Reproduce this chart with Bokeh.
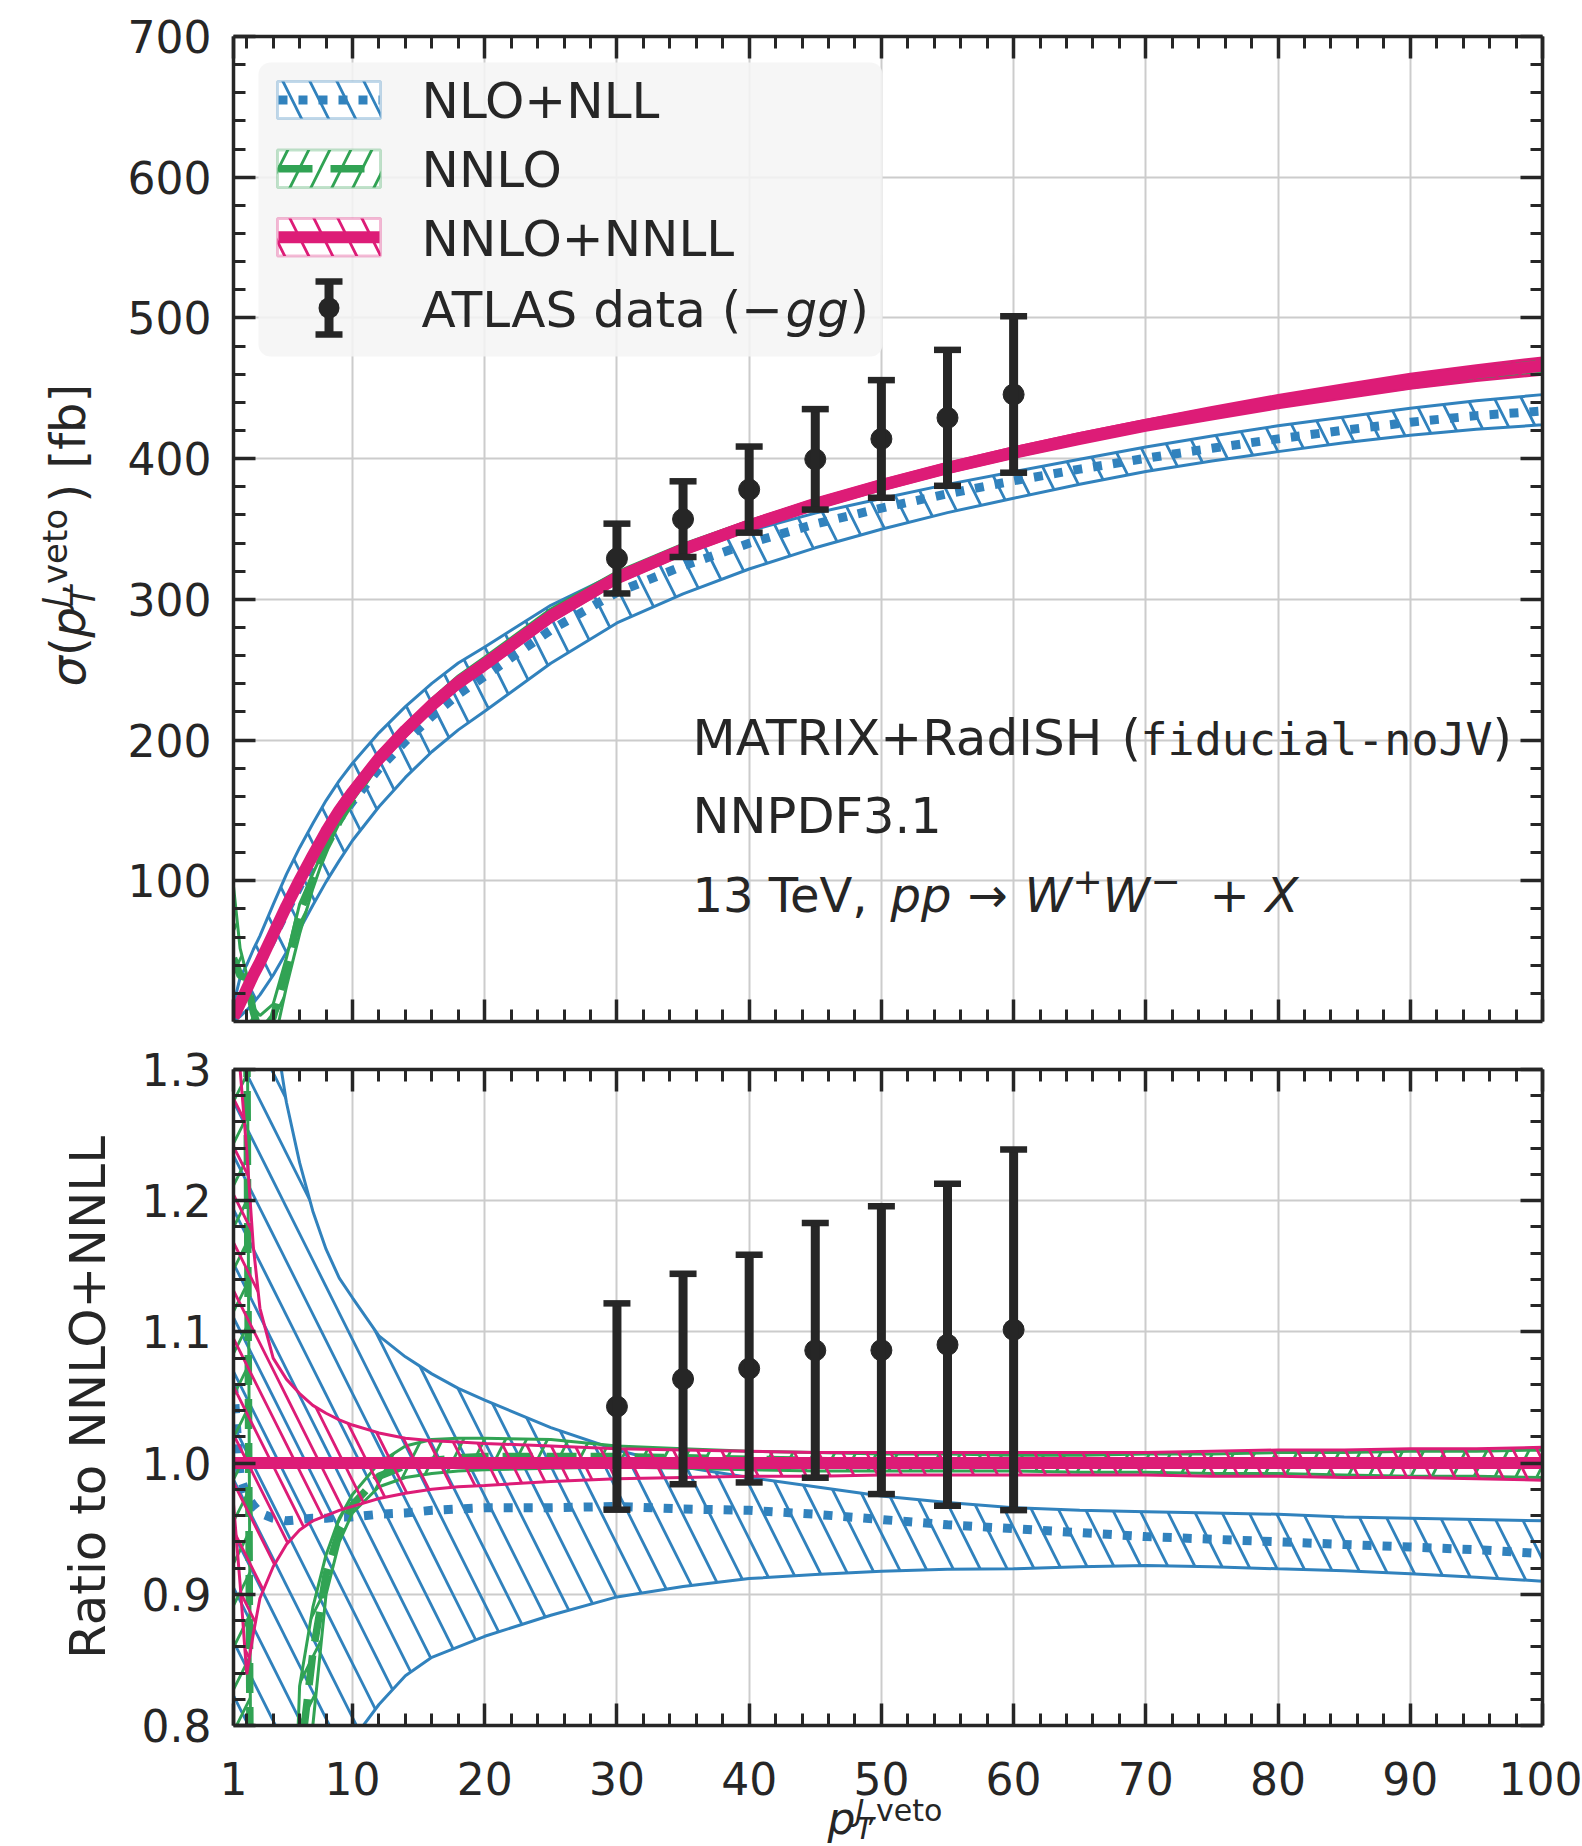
import math
import numpy as np
from bokeh.plotting import figure
from bokeh.layouts import column, row
from bokeh.models import (ColumnDataSource, FixedTicker, LinearAxis, Range1d,
                          Whisker, TeeHead, Label, BoxAnnotation, Arrow,
                          PrintfTickFormatter, CustomJSTickFormatter)
from bokeh.embed import file_html
from bokeh.resources import INLINE

# ---------------------------------------------------------------- data
pt = [1, 1.5, 2, 2.5, 3, 4, 5, 6, 7, 8, 9, 10, 12, 14, 16, 18, 20, 25, 30,
      35, 40, 45, 50, 55, 60, 65, 70, 75, 80, 85, 90, 95, 100]

# NNLO+NNLL central cross section [fb]
nnll_c = [3, 13, 23, 33, 42, 62, 82, 100.5, 118, 135, 150, 163, 187, 207, 225,
          241, 254, 288, 315.4, 335.5, 352.6, 367.9, 381.2, 393.5, 404.5, 414.5,
          424, 432.5, 440.5, 448, 455, 461, 466]

# all other curves as ratio to the NNLO+NNLL central value
nnll_hi_r = [1.6, 1.30, 1.238, 1.165, 1.118, 1.08, 1.064, 1.053, 1.044, 1.038,
             1.033, 1.029, 1.023, 1.019, 1.017, 1.016, 1.015, 1.013, 1.011, 1.010,
             1.009, 1.008, 1.008, 1.008, 1.008, 1.008, 1.008, 1.009, 1.010, 1.010,
             1.011, 1.011, 1.012]
nnll_lo_r = [0.969, 0.908, 0.839, 0.87, 0.897, 0.921, 0.938, 0.949, 0.956, 0.960,
             0.964, 0.967, 0.973, 0.977, 0.980, 0.982, 0.983, 0.986, 0.988, 0.989,
             0.990, 0.990, 0.991, 0.991, 0.991, 0.991, 0.991, 0.990, 0.990, 0.989,
             0.989, 0.988, 0.987]

nll_c_r = [1.06, 0.99, 0.975, 0.968, 0.962, 0.958, 0.956, 0.957, 0.958, 0.958,
           0.959, 0.959, 0.961, 0.962, 0.964, 0.965, 0.966, 0.966, 0.967, 0.965,
           0.964, 0.961, 0.957, 0.953, 0.950, 0.947, 0.944, 0.942, 0.940, 0.938,
           0.936, 0.934, 0.931]
nll_hi_r = [4.0, 2.4, 1.75, 1.55, 1.45, 1.34, 1.275, 1.229, 1.192, 1.163, 1.141,
            1.126, 1.097, 1.081, 1.068, 1.057, 1.048, 1.027, 1.010, 0.997, 0.989,
            0.982, 0.975, 0.970, 0.966, 0.964, 0.963, 0.962, 0.961, 0.959, 0.958,
            0.957, 0.956]
nll_lo_r = [0.2, 0.28, 0.35, 0.40, 0.45, 0.53, 0.60, 0.65, 0.70, 0.735, 0.762,
            0.789, 0.816, 0.838, 0.852, 0.860, 0.868, 0.884, 0.898, 0.906, 0.912,
            0.915, 0.9176, 0.919, 0.9194, 0.921, 0.922, 0.921, 0.9194, 0.918,
            0.9156, 0.913, 0.910]

nnlo_c_r = [15, 2.5, 1.35, 0.2, -0.2, 0.05, 0.45, 0.77, 0.855, 0.915, 0.948,
            0.968, 0.99, 0.998, 1.002, 1.004, 1.005, 1.005, 1.005, 1.004, 1.003,
            1.002, 1.001, 1.001, 1.0, 1.0, 1.0, 1.0, 1.0, 1.0, 1.0, 1.0, 1.0]
nnlo_hi_r = [32, 4.0, 1.45, 0.3, 0.1, 0.2, 0.55, 0.83, 0.89, 0.93, 0.958, 0.976,
             1.0, 1.013, 1.018, 1.019, 1.019, 1.018, 1.013, 1.011, 1.009, 1.008,
             1.007, 1.007, 1.006, 1.006, 1.007, 1.007, 1.008, 1.008, 1.009, 1.009,
             1.010]
nnlo_lo_r = [0.3, -1.0, -3.0, -2.0, -1.0, -0.3, 0.3, 0.62, 0.80, 0.90, 0.94,
             0.962, 0.982, 0.989, 0.992, 0.994, 0.995, 0.996, 0.997, 0.996, 0.995,
             0.994, 0.994, 0.994, 0.994, 0.993, 0.993, 0.992, 0.992, 0.991, 0.990,
             0.990, 0.989]

# ATLAS data (-gg)
data_pt = [30, 35, 40, 45, 50, 55, 60]
data_sigma = [329, 357, 378, 399.5, 414, 429, 445.6]
data_err = [24.8, 26.9, 30.6, 35.7, 41.8, 48.3, 55.6]

x_ticks = [1, 10, 20, 30, 40, 50, 60, 70, 80, 90, 100]
sigma_ticks = [100, 200, 300, 400, 500, 600, 700]
ratio_ticks = [0.8, 0.9, 1.0, 1.1, 1.2, 1.3]

# ---------------------------------------------------------------- style
BLUE, GREEN, PINK = "#3182bd", "#31a354", "#dd1c77"
DARK, GRID = "#262626", "#cccccc"
FONT, MONO = "DejaVu Sans", "DejaVu Sans Mono"
BASE_SHIFT = 0.346            # label anchor -> alphabetic baseline (em)

PAGE_W, PAGE_H = 1582, 1846
STRIP_W = 120                 # left text strip of the top row
H_TOP = 1041
FL, FR = 233, 1542            # frame left / right (page px)
T_TOP, T_BOT = 36, 1021       # top frame (page px)
B_TOP, B_BOT = 1069, 1725     # bottom frame (page px)
B_BORDER = 27                 # room for the lowest ratio tick label
H_BOT = (B_BOT - H_TOP) + B_BORDER
XL_TOP = H_TOP + H_BOT        # page y where the bottom text strip starts
H_XL = PAGE_H - XL_TOP
SIG_MAX = 700
TICK_PX = 44
LEG_PX = 50


def tx(px):
    return x_ticks[0] + (px - FL) * (x_ticks[-1] - x_ticks[0]) / (FR - FL)


def ty(py):
    return SIG_MAX * (T_BOT - py) / (T_BOT - T_TOP)


x_minor = [v for v in range(2, 100, 2) if v % 10 != 0]
sig_minor = [v for v in range(20, 700, 20) if v % 100 != 0]
ratio_minor = [round(0.8 + 0.02 * i, 2) for i in range(1, 25) if i % 5 != 0]

xtick = FixedTicker(ticks=x_ticks, minor_ticks=x_minor)
stick = FixedTicker(ticks=sigma_ticks, minor_ticks=sig_minor)
rtick = FixedTicker(ticks=ratio_ticks, minor_ticks=ratio_minor)

xr = Range1d(x_ticks[0], x_ticks[-1])


def style_axis(ax, ticker, labels):
    ax.ticker = ticker
    ax.axis_line_color = DARK
    ax.axis_line_width = 3.5
    ax.major_tick_line_color = DARK
    ax.major_tick_line_width = 3.5
    ax.minor_tick_line_color = DARK
    ax.minor_tick_line_width = 3
    ax.major_tick_in = 22
    ax.major_tick_out = 0
    ax.minor_tick_in = 12
    ax.minor_tick_out = 0
    ax.major_label_text_font = FONT
    ax.major_label_text_color = DARK
    if labels:
        ax.major_label_text_font_size = f"{TICK_PX}px"
    else:
        ax.formatter = CustomJSTickFormatter(code="return ''")
        ax.major_label_text_font_size = "1px"
        ax.major_label_standoff = 0


def make_fig(width, height, yr, ytick, bleft, btop, bbot):
    p = figure(width=width, height=height, x_range=xr, y_range=yr,
               output_backend="svg", toolbar_location=None,
               min_border_left=bleft, min_border_right=PAGE_W - FR,
               min_border_top=btop, min_border_bottom=bbot,
               background_fill_color="white", border_fill_color="white",
               outline_line_color=None)
    style_axis(p.below[0], xtick, False)
    style_axis(p.left[0], ytick, True)
    p.left[0].major_label_standoff = 22
    top_ax = LinearAxis()
    right_ax = LinearAxis()
    style_axis(top_ax, xtick, False)
    style_axis(right_ax, ytick, False)
    p.add_layout(top_ax, "above")
    p.add_layout(right_ax, "right")
    p.xgrid.ticker = xtick
    p.ygrid.ticker = ytick
    for g in (p.xgrid, p.ygrid):
        g.grid_line_color = GRID
        g.grid_line_width = 2
    return p


def strip(width, height, x_range, y_range):
    s = figure(width=width, height=height, x_range=x_range, y_range=y_range,
               x_axis_type=None, y_axis_type=None,
               output_backend="svg", toolbar_location=None, min_border=0,
               outline_line_color=None, background_fill_color="white",
               border_fill_color="white")
    s.frame_align = False
    return s


def draw_bands(p, scale):
    s = np.asarray(scale, dtype=float)
    ones = s / s
    specs = [
        (nll_hi_r, nll_lo_r, nll_c_r, BLUE, "\\", 54,
         dict(line_width=9, line_dash="9 11", line_cap="butt")),
        (nnlo_hi_r, nnlo_lo_r, nnlo_c_r, GREEN, "/", 42,
         dict(line_width=7.5, line_dash="30 14")),
        (nnll_hi_r, nnll_lo_r, list(ones), PINK, "\\", 48,
         dict(line_width=12)),
    ]
    xs = list(pt) + list(pt[::-1])
    for hi, lo, cen, col, pat, hs, lkw in specs:
        hi_v = np.asarray(hi) * s
        lo_v = np.asarray(lo) * s
        p.patch(x=xs, y=list(hi_v) + list(lo_v[::-1]), fill_color=None,
                hatch_pattern=pat, hatch_color=col, hatch_scale=hs,
                hatch_weight=2.8, line_color=col, line_width=3)
        p.line(x=pt, y=list(np.asarray(cen) * s), line_color=col, **lkw)


def draw_data(p, src):
    w = Whisker(source=src, base="x", upper="up", lower="lo", dimension="height",
                line_color=DARK, line_width=9, level="annotation",
                upper_head=TeeHead(size=27, line_color=DARK, line_width=6.5),
                lower_head=TeeHead(size=27, line_color=DARK, line_width=6.5))
    p.add_layout(w)
    p.scatter("x", "y", source=src, size=21, fill_color=DARK, line_color=DARK)


def label(p, x, y, text, size, style="normal", font=FONT, angle=0.0,
          align="left", x_offset=0):
    p.add_layout(Label(x=x, y=y, text=text, text_font=font,
                       text_font_size=f"{size}px", text_font_style=style,
                       text_color=DARK, text_align=align, x_offset=x_offset,
                       text_baseline="alphabetic", angle=angle))


def put_top(px, py, text, size, style="normal", font=FONT):
    """text in the top panel; (px, py) = page position of the baseline start"""
    label(p1, tx(px), ty(py - BASE_SHIFT * size), text, size, style, font)


# ---------------------------------------------------------------- top panel
p1 = make_fig(PAGE_W - STRIP_W, H_TOP, Range1d(0, SIG_MAX), stick,
              FL - STRIP_W, T_TOP, H_TOP - T_BOT)
draw_bands(p1, nnll_c)

c_at = dict(zip(pt, nnll_c))
data_c = np.array([c_at[v] for v in data_pt], dtype=float)
sig = np.array(data_sigma, dtype=float)
err = np.array(data_err, dtype=float)
src_top = ColumnDataSource(dict(x=data_pt, y=list(sig), up=list(sig + err), lo=list(sig - err)))
src_bot = ColumnDataSource(dict(x=data_pt, y=list(sig / data_c),
                                up=list((sig + err) / data_c), lo=list((sig - err) / data_c)))
draw_data(p1, src_top)

# legend (drawn by hand so the error-bar symbol matches)
p1.add_layout(BoxAnnotation(left=tx(258), right=tx(882), top=ty(62), bottom=ty(356),
                            fill_color="#f5f5f5", fill_alpha=0.85, line_alpha=0,
                            border_radius=12))
legend_rows = [
    (BLUE, "\\", 54, 81, 118, "NLO+NLL", dict(line_width=9, line_dash="9 11")),
    (GREEN, "/", 42, 149.5, 187, "NNLO", dict(line_width=7.5, line_dash="34 18")),
    (PINK, "\\", 48, 218, 255.5, "NNLO+NNLL", dict(line_width=12)),
]
for col, pat, hs, top, bot, lab, lkw in legend_rows:
    p1.add_layout(BoxAnnotation(left=tx(277), right=tx(380), top=ty(top), bottom=ty(bot),
                                fill_color="white", fill_alpha=1, line_color=col,
                                line_width=3, hatch_pattern=pat, hatch_color=col,
                                hatch_scale=hs, hatch_weight=2.8))
    mid = ty((top + bot) / 2)
    p1.add_layout(Arrow(x_start=tx(278), y_start=mid, x_end=tx(379), y_end=mid,
                        start=None, end=None, line_color=col, **lkw))
    put_top(421, bot, lab, LEG_PX)

p1.add_layout(Arrow(x_start=tx(328.5), y_start=ty(281), x_end=tx(328.5), y_end=ty(334),
                    line_color=DARK, line_width=9,
                    start=TeeHead(size=27, line_color=DARK, line_width=6.5),
                    end=TeeHead(size=27, line_color=DARK, line_width=6.5)))
p1.add_layout(BoxAnnotation(left=tx(318), right=tx(339), top=ty(297), bottom=ty(318),
                            fill_color=DARK, fill_alpha=1, line_alpha=0, border_radius=11))
put_top(421, 326.5, "ATLAS data (\u2212", LEG_PX)
put_top(785, 326.5, "gg", LEG_PX, style="italic")
put_top(849, 326.5, ")", LEG_PX)

# text block
put_top(692, 755, "MATRIX+RadISH", 50)
put_top(1121, 755, "(", 50)
put_top(1140, 755, "fiducial-noJV", 45, font=MONO)
put_top(1492, 755, ")", 50)
put_top(692, 833, "NNPDF3.1", 49.5)
put_top(692, 911, "13 TeV,", 48)
put_top(890, 911, "pp", 48, style="italic")
put_top(967, 911, "\u2192", 48)
put_top(1024, 911, "W", 48, style="italic")
put_top(1072, 893, "+", 36)
put_top(1102, 911, "W", 48, style="italic")
put_top(1150, 893, "\u2212", 36)
put_top(1209, 911, "+", 48)
put_top(1265, 911, "X", 48, style="italic")

# left strip: y label sigma(p_T^{J,veto}) [fb]  (data units = page px)
s1 = strip(STRIP_W, H_TOP, Range1d(0, STRIP_W), Range1d(H_TOP, 0))
A = math.pi / 2


def put_rot(x_base, y_start, text, size, style="normal"):
    label(s1, x_base - BASE_SHIFT * size, y_start, text, size, style, FONT, A)


put_rot(84, 686, "\u03c3", 48, "italic")
put_rot(84, 655.6, "(", 48)
put_rot(84, 636.9, "p", 48, "italic")
put_rot(94, 606.4, "T", 34, "italic")
put_rot(66, 606.4, "J", 34, "italic")
put_rot(66, 594.4, ",veto", 34)
put_rot(84, 502, ")", 48)
put_rot(84, 468, "[fb]", 48)

# ---------------------------------------------------------------- ratio panel
p2 = make_fig(PAGE_W, H_BOT, Range1d(ratio_ticks[0], ratio_ticks[-1]), rtick,
              FL, B_TOP - H_TOP, B_BORDER)
p2.left[0].formatter = PrintfTickFormatter(format="%.1f")
draw_bands(p2, [1.0] * len(pt))
draw_data(p2, src_bot)

ly = p2.left[0]
ly.axis_label = "Ratio to NNLO+NNLL"
ly.axis_label_text_font = FONT
ly.axis_label_text_font_size = "50px"
ly.axis_label_text_font_style = "normal"
ly.axis_label_text_color = DARK
ly.axis_label_standoff = 22

# bottom strip: x tick labels and x label p_T^{J,veto}
# x in the same units as the panels (p_T), y = page px
s3 = strip(PAGE_W, H_XL, Range1d(tx(0), tx(PAGE_W)), Range1d(PAGE_H, XL_TOP))


def put_x(px, py, text, size, style="normal"):
    label(s3, tx(px), py - BASE_SHIFT * size, text, size, style)


TICK_BASE = XL_TOP + 0.93 * TICK_PX          # baseline of the x tick labels
for t in x_ticks:
    if t == x_ticks[-1]:
        # keep the last label inside the page
        label(s3, t, TICK_BASE - BASE_SHIFT * TICK_PX, str(t), TICK_PX,
              align="right", x_offset=PAGE_W - FR)
    else:
        label(s3, t, TICK_BASE - BASE_SHIFT * TICK_PX, str(t), TICK_PX,
              align="center")

put_x(827, 1833, "p", 44, "italic")
put_x(855, 1838, "T", 30, "italic")
put_x(855, 1820, "J", 30, "italic")
put_x(866, 1820, ",veto", 30)

layout = column(row(s1, p1, spacing=0), p2, s3, spacing=0)
open("out.html", "w").write(file_html(layout, INLINE, "WW jet veto"))
